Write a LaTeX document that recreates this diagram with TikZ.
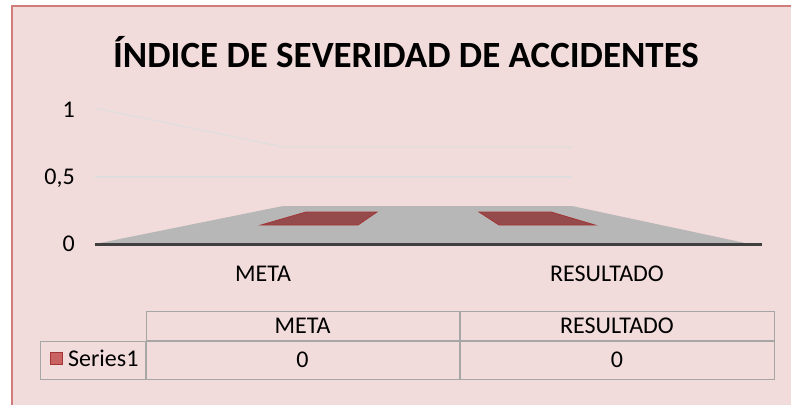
\documentclass[tikz,border=0pt]{standalone}
\usepackage{fontspec}
\setmainfont{Carlito}
\usetikzlibrary{positioning}
\definecolor{chartbg}{HTML}{F2DCDB}
\definecolor{chartedge}{HTML}{D27B7B}
\definecolor{gridgray}{HTML}{DEDEDE}
\definecolor{floorgray}{HTML}{B7B7B7}
\definecolor{axisgray}{HTML}{404040}
\definecolor{barred}{HTML}{954B4B}
\definecolor{baredge}{HTML}{A33535}
\definecolor{tablegray}{HTML}{A6A6A6}
\definecolor{keyred}{HTML}{C96262}
\begin{document}
\begin{tikzpicture}[x=1pt,y=-1pt, lbl/.style={font=\fontsize{24}{26}\selectfont,inner sep=0pt}, cell/.style={draw=tablegray,line width=1pt,inner sep=0pt,font=\fontsize{24}{26}\selectfont}, bar/.style={fill=barred,draw=baredge,line width=0.8pt}]
	\useasboundingbox (0,0) rectangle (791,404);
	\fill[white] (0,0) rectangle (791,404);
	\draw[fill=chartbg,draw=chartedge,line width=1.2pt] (12,6) rectangle (800,410);
	\node[font=\fontsize{37}{42}\bfseries\selectfont,inner sep=0pt] (title) at (406,52) {ÍNDICE DE SEVERIDAD DE ACCIDENTES};
	% walls and floor
	\draw[gridgray,line width=1.2pt] (95,108) -- (283,147) -- (572,147);
	\draw[gridgray,line width=1.2pt] (95,177) -- (572,177);
	\fill[floorgray] (95,244) -- (283,206) -- (572,206) -- (750,244) -- cycle;
	\draw[axisgray,line width=3pt] (95,244) -- (762,244);
	\draw[bar] (261,225) -- (306,212) -- (377,212) -- (358,225) -- cycle;
	\draw[bar] (479,212) -- (551,212) -- (595,225) -- (499,225) -- cycle;
	\node[lbl,anchor=east] (y1) at (75,110) {1};
	\node[lbl,anchor=east] (y05) at (75,178) {0,5};
	\node[lbl,anchor=east] (y0) at (75,244) {0};
	\node[lbl] (meta) at (263,274) {META};
	\node[lbl] (res) at (607,274) {RESULTADO};
	% data table
	\node[cell,minimum width=313pt,minimum height=29pt] (hmeta) at (302.5,325.5) {META};
	\node[cell,minimum width=314pt,minimum height=29pt,right=0pt of hmeta] (hres) {RESULTADO};
	\node[cell,minimum width=313pt,minimum height=38pt,below=0pt of hmeta] (vmeta) {0};
	\node[cell,minimum width=314pt,minimum height=38pt,below=0pt of hres] (vres) {0};
	\node[cell,minimum width=105pt,minimum height=38pt,left=0pt of vmeta] (series) {};
	\node[draw=baredge,fill=keyred,line width=0.8pt,minimum size=12pt,inner sep=0pt] (key) at (56.5,358.5) {};
	\node[lbl,anchor=west,right=5pt of key] (sname) {Series1};
\end{tikzpicture}
\end{document}
